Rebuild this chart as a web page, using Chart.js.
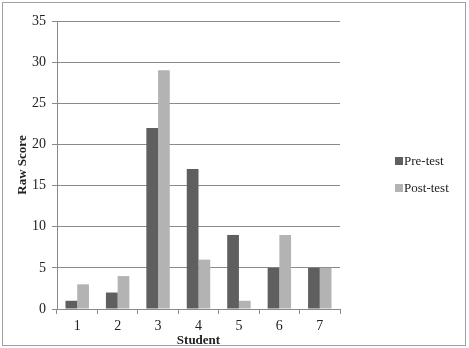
<!DOCTYPE html>
<html>
<head>
<meta charset="utf-8">
<script src="https://cdn.jsdelivr.net/npm/chart.js@4"></script>
<style>
  body { margin: 0; background: #fff; }
  #wrap { position: relative; width: 469px; height: 348px; }
  #frame { position: absolute; left: 2px; top: 2px; width: 464px; height: 344px; border: 1px solid #a0a0a0; box-sizing: border-box; pointer-events: none; }
  .leg { position: absolute; left: 395px; font: 13px "Liberation Serif", serif; color: #222; line-height: 15px; }
  .leg span { display: inline-block; width: 8px; height: 8px; margin-right: 1px; vertical-align: 0px; }
</style>
</head>
<body>
<div id="wrap">
  <canvas id="chart" width="469" height="348"></canvas>
  <div id="frame"></div>
  <div class="leg" style="top:153px"><span style="background:#5f5f5f"></span>Pre-test</div>
  <div class="leg" style="top:180px"><span style="background:#b3b3b3"></span>Post-test</div>
</div>
<script>
let students = ['1', '2', '3', '4', '5', '6', '7'];
let pre_test = [1, 2, 22, 17, 9, 5, 5];
let post_test = [3, 4, 29, 6, 1, 9, 5];

let serif = '"Liberation Serif", "Times New Roman", serif';
let grid_col = '#8a8a8a';

var ctx = document.getElementById('chart');
var chart = new Chart(ctx, {
    type: 'bar',
    data: {
        labels: students,
        datasets: [
            { label: 'Pre-test', data: pre_test, backgroundColor: '#5f5f5f', categoryPercentage: 0.58, barPercentage: 1 },
            { label: 'Post-test', data: post_test, backgroundColor: '#b3b3b3', categoryPercentage: 0.58, barPercentage: 1 }
        ],
    },
    options: {
        responsive: false,
        animation: false,
        layout: { padding: { left: 15, right: 129, top: 21, bottom: 0 } },
        scales: {
            x: {
                grid: { drawOnChartArea: false, drawTicks: true, tickLength: 5, color: grid_col },
                border: { color: grid_col },
                ticks: { color: '#222', font: { family: serif, size: 14 }, padding: 4 },
                title: { display: true, text: 'Student', color: '#222', font: { family: serif, size: 13, weight: 'bold' }, padding: { top: -7, bottom: 0 } },
                afterFit: (s) => { s.height = 39; },
            },
            y: {
                min: 0,
                max: 35,
                ticks: { stepSize: 5, color: '#222', font: { family: serif, size: 14 }, padding: 6 },
                grid: { color: grid_col, tickLength: 5 },
                border: { color: grid_col },
                title: { display: true, text: 'Raw Score', color: '#222', font: { family: serif, size: 13, weight: 'bold' }, padding: 0 },
                afterFit: (s) => { s.width = 42; },
            },
        },
        plugins: {
            legend: { display: false },
            tooltip: { enabled: false },
        },
    },
});
</script>
</body>
</html>
